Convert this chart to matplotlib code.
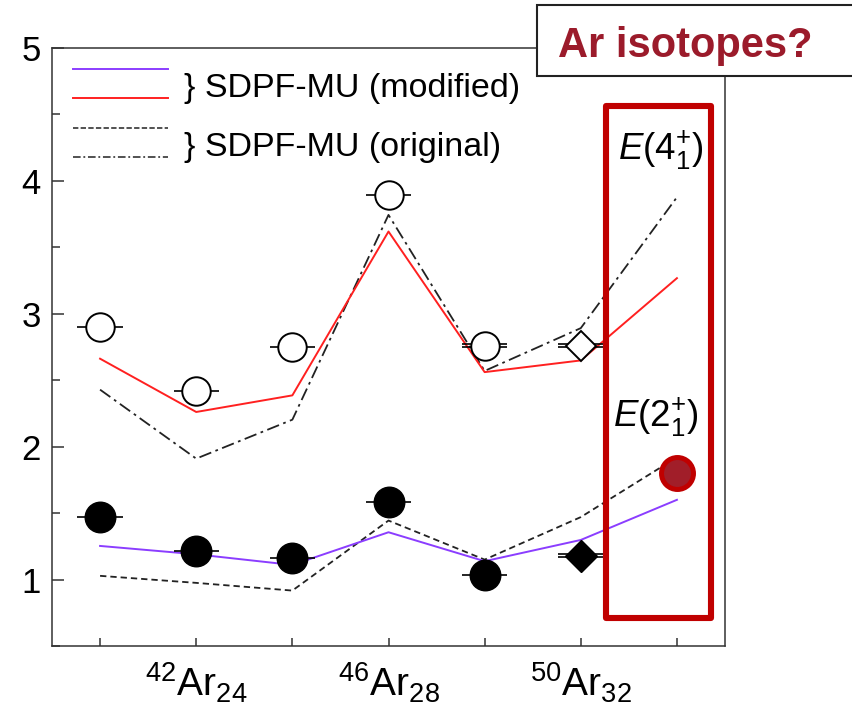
import matplotlib
matplotlib.use("Agg")
import matplotlib.pyplot as plt
from matplotlib.patches import Rectangle
import numpy as np

plt.rcParams['font.family'] = ['Liberation Sans', 'DejaVu Sans']
plt.rcParams['mathtext.fontset'] = 'custom'
plt.rcParams['mathtext.rm'] = 'Liberation Sans'
plt.rcParams['mathtext.it'] = 'Liberation Sans:italic'
plt.rcParams['mathtext.bf'] = 'Liberation Sans:bold'

# ---- data -------------------------------------------------------------
# neutron numbers of 40Ar ... 52Ar
neutrons = [22, 24, 26, 28, 30, 32, 34]
tick_labels = ['', r'${}^{42}\mathrm{Ar}_{24}$', '', r'${}^{46}\mathrm{Ar}_{28}$',
               '', r'${}^{50}\mathrm{Ar}_{32}$', '']

# experimental energies (MeV)
e4_exp_n = [22, 24, 26, 28, 30]
e4_exp = [2.897, 2.416, 2.747, 3.895, 2.760]
e2_exp_n = [22, 24, 26, 28, 30]
e2_exp = [1.468, 1.213, 1.163, 1.584, 1.038]
# tentative values for 50Ar (diamonds)
tent_n = [32]
e4_tent = [2.760]
e2_tent = [1.180]
# new 52Ar measurement
new_n = [34]
e2_new = [1.80]

# SDPF-MU shell-model calculations
e4_mod = [2.662, 2.261, 2.386, 3.619, 2.561, 2.649, 3.268]
e2_mod = [1.253, 1.190, 1.110, 1.356, 1.138, 1.298, 1.600]
e4_orig = [2.429, 1.910, 2.203, 3.744, 2.570, 2.892, 3.877]
e2_orig = [1.028, 0.975, 0.917, 1.444, 1.150, 1.470, 1.920]

# points whose horizontal bars are drawn doubled
double_bar_4 = [30, 32]
double_bar_2 = [32]

# ---- figure -------------------------------------------------------------
W, H = 853, 721
fig = plt.figure(figsize=(W / 100, H / 100), dpi=100)
ax = fig.add_axes([52 / W, 75 / H, 673 / W, 598 / H])

ax.set_xlim(21, 35)
ax.set_ylim(0.5, 5.0)

PURPLE = '#8B3DFF'
RED = '#FF2020'
DARK = '#222222'
HILITE = '#C00000'

ax.plot(neutrons, e4_orig, color=DARK, lw=1.3, dashes=(7, 2.5, 1.5, 2.5), zorder=2)
ax.plot(neutrons, e2_orig, color=DARK, lw=1.3, dashes=(3.5, 2.2), zorder=2)
ax.plot(neutrons, e4_mod, color=RED, lw=1.4, zorder=2)
ax.plot(neutrons, e2_mod, color=PURPLE, lw=1.4, zorder=2)

XERR = 0.47
DY = 0.013


def hbars(xs, ys, doubled):
    for x, y in zip(xs, ys):
        offs = [-DY, DY] if x in doubled else [0.0]
        for o in offs:
            ax.errorbar([x], [y + o], xerr=XERR, fmt='none', ecolor='black',
                        elinewidth=1.2, capsize=0, zorder=3)


hbars(e4_exp_n, e4_exp, double_bar_4)
hbars(tent_n, e4_tent, double_bar_4)
hbars(e2_exp_n, e2_exp, double_bar_2)
hbars(tent_n, e2_tent, double_bar_2)

ax.plot(e4_exp_n, e4_exp, 'o', ms=20.5, mfc='white', mec='black', mew=1.4,
        ls='none', zorder=4)
ax.plot(e2_exp_n, e2_exp, 'o', ms=22, mfc='black', mec='black', mew=1.0,
        ls='none', zorder=4)
ax.plot(tent_n, e4_tent, 'D', ms=15.5, mfc='white', mec='black', mew=1.4,
        ls='none', zorder=4)
ax.plot(tent_n, e2_tent, 'D', ms=16, mfc='black', mec='black', mew=1.0,
        ls='none', zorder=4)
ax.plot(new_n, e2_new, 'o', ms=23, mfc='#A11E29', mec=HILITE, mew=3.6,
        ls='none', zorder=6)

# highlight frame around 52Ar
ax.add_patch(Rectangle((32.52, 0.714), 2.18, 3.85, fill=False, ec=HILITE,
                       lw=4.4, joinstyle='round', zorder=5, clip_on=False))

# level labels
ax.text(0.841, 0.8127, r'$E(4^{+}_{1})$', transform=ax.transAxes,
        fontsize=26.5, va='baseline', ha='left', zorder=7)
ax.text(0.8336, 0.3662, r'$E(2^{+}_{1})$', transform=ax.transAxes,
        fontsize=26.5, va='baseline', ha='left', zorder=7)

# legend drawn by hand: two line samples per bracket
def fx(px):
    return (px - 52) / 673


def fy(py):
    return (646 - py) / 598


sx = [fx(73), fx(168)]
ax.plot(sx, [fy(69)] * 2, color=PURPLE, lw=1.4, transform=ax.transAxes)
ax.plot(sx, [fy(98)] * 2, color=RED, lw=1.4, transform=ax.transAxes)
ax.plot(sx, [fy(128)] * 2, color=DARK, lw=1.1, dashes=(3.5, 1.5),
        transform=ax.transAxes)
ax.plot(sx, [fy(157)] * 2, color=DARK, lw=1.1, dashes=(5, 1.8, 1.2, 1.8),
        transform=ax.transAxes)
ax.text(fx(184), fy(97), '} SDPF-MU (modified)', transform=ax.transAxes,
        fontsize=24.5, va='baseline', ha='left')
ax.text(fx(184), fy(156), '} SDPF-MU (original)', transform=ax.transAxes,
        fontsize=24.5, va='baseline', ha='left')

# axes styling
ax.set_xticks(neutrons)
ax.set_xticklabels(tick_labels, fontsize=28)
ax.set_yticks([1, 2, 3, 4, 5])
ax.set_yticks(np.arange(0.5, 5.01, 0.5), minor=True)
ax.set_yticklabels(['1', '2', '3', '4', '5'], fontsize=25)
ax.tick_params(axis='x', direction='in', length=6, width=1.1, color='#333333',
               pad=11)
ax.tick_params(axis='y', which='major', direction='in', length=8.6, width=1.1,
               color='#333333', pad=8)
ax.tick_params(axis='y', which='minor', direction='in', length=5.8, width=1.1,
               color='#333333')
for sp in ax.spines.values():
    sp.set_linewidth(1.1)
    sp.set_color('#333333')

# title box
fig.add_artist(Rectangle((537 / W, 645 / H), 0.5, 71 / H, transform=fig.transFigure,
                         fc='white', ec='#222222', lw=1.5, zorder=10))
fig.text(558 / W, (H - 57) / H, 'Ar isotopes?', fontsize=30, fontweight='bold',
         color='#9B1B2B', va='baseline', ha='left', zorder=11)

fig.savefig('out.png', dpi=100)
